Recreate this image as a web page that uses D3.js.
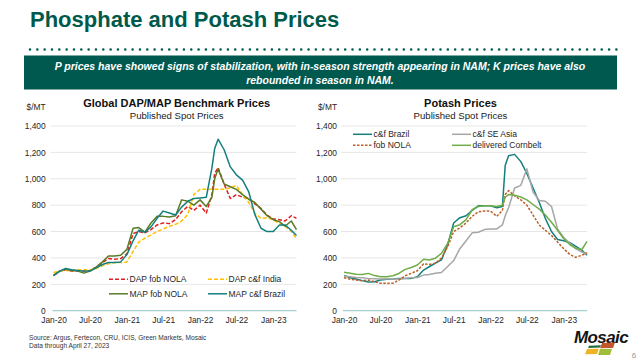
<!DOCTYPE html>
<html>
<head>
<meta charset="utf-8">
<script src="https://cdn.jsdelivr.net/npm/d3@7/dist/d3.min.js"></script>
<style>
body{margin:0;background:#fff;}
svg{display:block;font-family:'Liberation Sans',Arial,sans-serif;}
.grid{stroke:#e6e6e6;stroke-width:1;}
.zero{stroke:#a6cfcf;stroke-width:1.3;}
.axis text{font-size:8.4px;fill:#262626;font-family:'Liberation Sans',Arial,sans-serif;}
.series{fill:none;stroke-width:1.5;stroke-linejoin:round;}
.legend text{font-size:8.5px;fill:#262626;}
</style>
</head>
<body>
<div id="canvas"></div>
<script>
//Data (monthly, plus mid-March 2022 and the last published week)
var dates = ['2020-01-01','2020-02-01','2020-03-01','2020-04-01','2020-05-01','2020-06-01',
    '2020-07-01','2020-08-01','2020-09-01','2020-10-01','2020-11-01','2020-12-01',
    '2021-01-01','2021-02-01','2021-03-01','2021-04-01','2021-05-01','2021-06-01',
    '2021-07-01','2021-08-01','2021-09-01','2021-10-01','2021-11-01','2021-12-01',
    '2022-01-01','2022-02-01','2022-03-01','2022-03-15','2022-04-01','2022-05-01','2022-06-01',
    '2022-07-01','2022-08-01','2022-09-01','2022-10-01','2022-11-01','2022-12-01',
    '2023-01-01','2023-02-01','2023-03-01','2023-04-01','2023-04-27'];

var tickDates = ['2020-01-01','2020-07-01','2021-01-01','2021-07-01','2022-01-01','2022-07-01','2023-01-01'];
var tickLabels = ['Jan-20','Jul-20','Jan-21','Jul-21','Jan-22','Jul-22','Jan-23'];
var yTicks = [0,200,400,600,800,1000,1200,1400];

//Phosphate ($/MT)
var dapNola = [265,300,310,300,300,300,305,330,365,395,390,395,430,585,600,590,615,650,665,660,690,750,790,760,
    800,740,880,1040,1085,960,850,880,860,850,810,775,725,695,690,680,720,700];
var dapIndia = [290,300,305,305,310,310,310,320,340,355,365,365,370,450,520,550,575,600,620,640,655,680,730,880,
    920,920,920,920,920,920,930,950,880,820,740,700,705,690,660,640,600,545];
var mapNola = [270,300,315,305,300,285,300,330,370,415,415,420,465,625,630,595,665,715,715,710,720,840,830,800,
    840,790,860,1000,1075,960,940,920,880,845,820,770,720,690,675,640,680,615];
var mapBrazil = [265,300,320,310,305,300,300,325,350,365,365,370,425,530,610,595,635,700,755,740,725,785,830,850,
    855,860,1080,1230,1300,1220,1090,1030,990,900,730,625,600,600,650,650,610,570];

//Potash ($/MT)
var kBrazil = [268,250,240,228,218,220,232,238,240,245,245,245,258,308,333,360,385,500,665,705,720,760,795,795,
    795,780,790,1100,1175,1185,1130,1040,930,820,700,600,540,530,515,490,460,420];
var kSeAsia = [263,257,252,250,245,242,240,240,240,240,245,250,252,270,275,283,290,335,380,470,530,590,595,615,
    620,620,650,720,780,930,950,1075,900,835,830,790,620,555,510,470,445,430];
var kNola = [250,239,233,227,232,220,208,207,208,232,265,283,303,355,350,360,398,485,600,628,665,715,750,755,
    755,715,760,880,910,870,840,800,725,650,610,570,520,470,425,405,420,440];
var kCornbelt = [291,283,276,275,283,266,258,258,265,282,313,328,346,390,384,398,435,510,637,652,690,765,790,795,
    795,790,800,860,880,875,862,840,805,770,725,670,610,545,500,475,462,525];

var parseDate = d3.timeParse('%Y-%m-%d');

var svg = d3.select('#canvas')
    .append('svg')
    .attr('width',640)
    .attr('height',361);

//Header
svg.append('text')
    .attr('x',30)
    .attr('y',27)
    .style('font-size','22px')
    .style('font-weight','bold')
    .style('fill','#005a4b')
    .text('Phosphate and Potash Prices');

svg.append('line')
    .attr('x1',30).attr('x2',617)
    .attr('y1',49.5).attr('y2',49.5)
    .style('stroke','#005a4b')
    .style('stroke-width',2.6)
    .style('stroke-linecap','round')
    .style('stroke-dasharray','0,7.33');

svg.append('rect')
    .attr('x',24).attr('y',55.5)
    .attr('width',593).attr('height',34)
    .style('fill','#00594f');

var banner = ['P prices have showed signs of stabilization, with in-season strength appearing in NAM; K prices have also',
    'rebounded in season in NAM.'];
svg.selectAll('.banner').data(banner).enter().append('text')
    .attr('class','banner')
    .attr('x',320)
    .attr('y',function(d,i){return 70 + i*13.5;})
    .attr('text-anchor','middle')
    .style('font-size','10.5px')
    .style('font-weight','bold')
    .style('font-style','italic')
    .style('fill','#fff')
    .text(function(d){return d;});

//Panels
function drawPanel(p){
    var x = d3.scaleTime()
        .domain([parseDate(dates[0]), parseDate(dates[dates.length-1])])
        .range([p.x0, p.x1]);
    var y = d3.scaleLinear().domain([0,1400]).range([310.7,126]);
    var g = svg.append('g');

    //gridlines
    g.selectAll('.grid').data(yTicks.slice(1)).enter().append('line')
        .attr('class','grid')
        .attr('x1',p.x0-3).attr('x2',p.x1)
        .attr('y1',function(d){return y(d);})
        .attr('y2',function(d){return y(d);});

    //y labels
    g.append('g').attr('class','axis')
        .attr('transform','translate('+p.yLab+',0)')
        .call(d3.axisLeft(y).tickValues(yTicks).tickFormat(d3.format(',')).tickSize(0).tickPadding(0))
        .call(function(a){a.select('.domain').remove();});

    //series
    var line = d3.line()
        .x(function(d,i){return x(parseDate(dates[i]));})
        .y(function(d){return y(d);});
    p.series.forEach(function(s){
        g.append('path').datum(s.values)
            .attr('class','series')
            .attr('d',line)
            .style('stroke',s.color)
            .style('stroke-dasharray',s.dash || null);
    });

    //zero line + x labels
    g.append('line').attr('class','zero')
        .attr('x1',p.x0-1).attr('x2',p.x1)
        .attr('y1',y(0)).attr('y2',y(0));
    g.append('g').attr('class','axis')
        .attr('transform','translate(0,'+y(0)+')')
        .call(d3.axisBottom(x)
            .tickValues(tickDates.map(parseDate))
            .tickFormat(function(d,i){return tickLabels[i];})
            .tickSize(0).tickPadding(6))
        .call(function(a){a.select('.domain').remove();});

    //unit
    g.append('text')
        .attr('x',p.yLab).attr('y',110)
        .attr('text-anchor','end')
        .style('font-size','8.4px')
        .style('fill','#262626')
        .text('$/MT');

    //titles
    g.append('text')
        .attr('x',p.cx).attr('y',106.5)
        .attr('text-anchor','middle')
        .style('font-size','11px')
        .style('font-weight','bold')
        .style('fill','#111')
        .text(p.title);
    g.append('text')
        .attr('x',p.cx).attr('y',118.5)
        .attr('text-anchor','middle')
        .style('font-size','9.6px')
        .style('fill','#222')
        .text('Published Spot Prices');

    //legend
    var leg = g.selectAll('.legend').data(p.series).enter().append('g')
        .attr('class','legend')
        .attr('transform',function(d,i){
            return 'translate('+(p.lx + (i%2)*p.lcol)+','+(p.ly + Math.floor(i/2)*p.lrow)+')';
        });
    leg.append('line')
        .attr('x1',0).attr('x2',19)
        .style('stroke',function(d){return d.color;})
        .style('stroke-width',1.5)
        .style('stroke-dasharray',function(d){return d.dash || null;});
    leg.append('text')
        .attr('x',20.5).attr('y',3)
        .text(function(d){return d.name;});
}

drawPanel({
    x0:53.5, x1:296.5, yLab:45.7, cx:176.7,
    title:'Global DAP/MAP Benchmark Prices',
    lx:109, ly:279.3, lcol:99, lrow:14.5,
    series:[
        {name:'DAP fob NOLA', values:dapNola, color:'#e0201e', dash:'4,2'},
        {name:'DAP c&f India', values:dapIndia, color:'#ffc000', dash:'4,2'},
        {name:'MAP fob NOLA', values:mapNola, color:'#5b7b27'},
        {name:'MAP c&f Brazil', values:mapBrazil, color:'#14807e'}
    ]
});

drawPanel({
    x0:344, x1:587, yLab:337, cx:460.5,
    title:'Potash Prices',
    lx:353, ly:134.3, lcol:99, lrow:11,
    series:[
        {name:'c&f Brazil', values:kBrazil, color:'#14807e'},
        {name:'c&f SE Asia', values:kSeAsia, color:'#a6a6a6'},
        {name:'fob NOLA', values:kNola, color:'#b9602a', dash:'2.5,1.5'},
        {name:'delivered Cornbelt', values:kCornbelt, color:'#70ad47'}
    ]
});

//Footer
var source = ['Source: Argus, Fertecon, CRU, ICIS, Green Markets, Mosaic','Data through April 27, 2023'];
svg.selectAll('.source').data(source).enter().append('text')
    .attr('class','source')
    .attr('x',29)
    .attr('y',function(d,i){return 340 + i*8;})
    .style('font-size','6.6px')
    .style('fill','#333')
    .text(function(d){return d;});

//Logo
var logo = svg.append('g');
logo.append('text')
    .attr('x',574).attr('y',343)
    .style('font-size','17px')
    .style('font-weight','bold')
    .style('font-style','italic')
    .style('letter-spacing','-0.6px')
    .style('fill','#141414')
    .text('Mosaic');
var marks = [
    {pts:[[589,345.8],[601,345.3],[600,347.4],[588,347.9]], c:'#1f6b3a'},
    {pts:[[602,343],[615,342.5],[613,348],[600,348.3]], c:'#c4562b'},
    {pts:[[587,349],[599,348.8],[597,354],[585,354.3]], c:'#eeb424'},
    {pts:[[600,349],[612,349],[610,355],[598,355]], c:'#9fbf3a'}
];
logo.selectAll('polygon').data(marks).enter().append('polygon')
    .attr('points',function(d){return d.pts.join(' ');})
    .style('fill',function(d){return d.c;});

svg.append('text')
    .attr('x',634).attr('y',358)
    .attr('text-anchor','middle')
    .style('font-size','8px')
    .style('fill','#999')
    .text('6');
</script>
</body>
</html>
